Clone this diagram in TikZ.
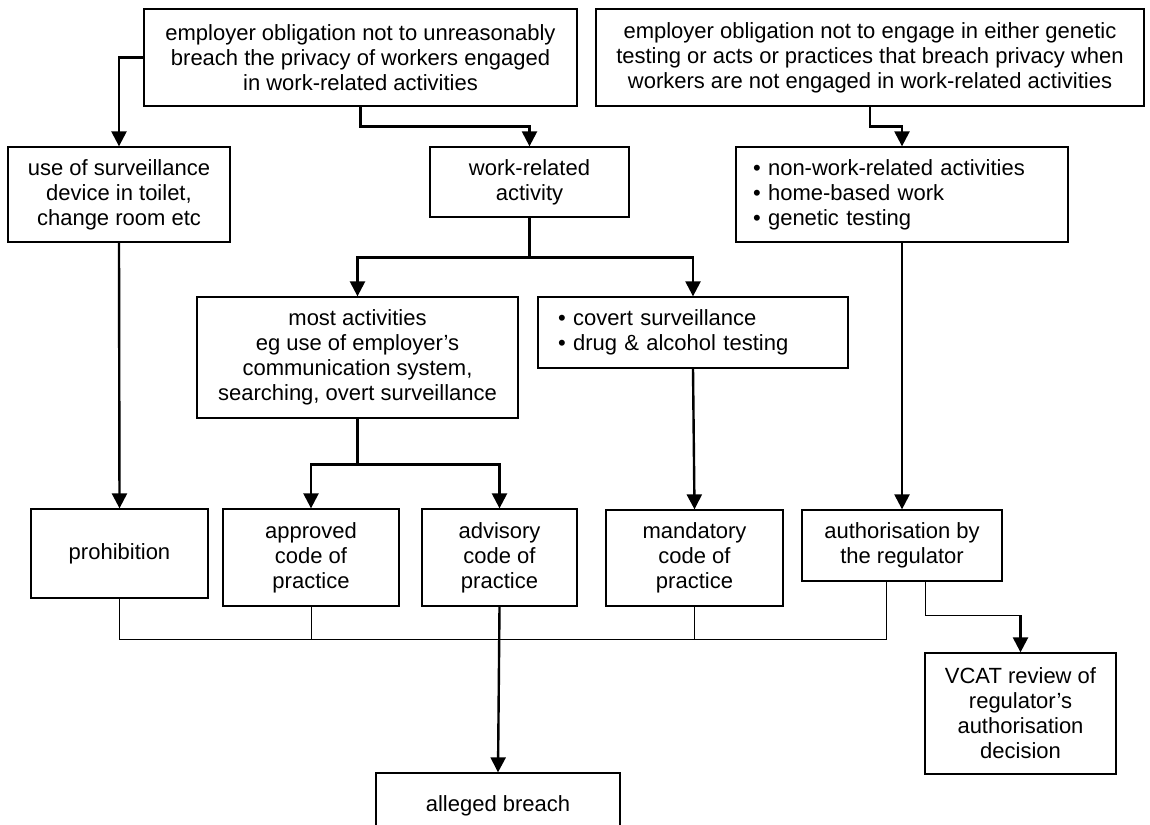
\documentclass[tikz,border=0pt]{standalone}
\usepackage{fontspec}
\setmainfont{Liberation Sans}
\usetikzlibrary{arrows.meta}
\begin{document}
\begin{tikzpicture}[x=1pt,y=-1pt,
  box/.style={draw=black, line width=1.3pt, fill=white, align=center, inner sep=0pt,
              font=\fontsize{22}{25}\selectfont},
  lbox/.style={box, align=left},
  conn/.style={line width=2.4pt, -{Triangle[width=15pt,length=15pt]}},
  trunk/.style={line width=2.4pt},
  bus/.style={line width=1pt}]
\clip (0,0) rectangle (1150,824);
\fill[white] (0,0) rectangle (1150,824);

% boxes
\node[box, minimum width=433pt, minimum height=97pt] (tl) at (360.5,57.5)
  {employer obligation not to unreasonably\\breach the privacy of workers engaged\\in work-related activities};
\node[box, minimum width=548pt, minimum height=97pt] (tr) at (870,57.5)
  {employer obligation not to engage in either genetic\\testing or acts or practices that breach privacy when\\workers are not engaged in work-related activities};
\node[box, minimum width=222pt, minimum height=95pt] (sv) at (119,194.5)
  {use of surveillance\\device in toilet,\\change room etc};
\node[box, minimum width=199pt, minimum height=70pt] (wr) at (529.5,182)
  {work-related\\activity};
\node[lbox, text width=298pt, inner xsep=17pt, minimum height=95pt] (nw) at (902,194.5)
  {• non-work-related activities\\• home-based work\\• genetic testing};
\node[box, minimum width=321pt, minimum height=121pt] (ma) at (357.5,357.5)
  {most activities\\eg use of employer’s\\communication system,\\searching, overt surveillance};
\node[lbox, text width=270pt, inner xsep=20pt, minimum height=71pt] (cv) at (693,332.5)
  {• covert surveillance\\• drug \& alcohol testing};
\node[box, minimum width=177pt, minimum height=89pt] (pr) at (119.5,553.5) {prohibition};
\node[box, minimum width=176pt, minimum height=97pt] (ap) at (311,557.5) {approved\\code of\\practice};
\node[box, minimum width=155pt, minimum height=97pt] (ad) at (499.5,557.5) {advisory\\code of\\practice};
\node[box, minimum width=177pt, minimum height=96pt] (md) at (694.5,558) {mandatory\\code of\\practice};
\node[box, minimum width=200pt, minimum height=71pt] (au) at (902,545.5) {authorisation by\\the regulator};
\node[box, minimum width=191pt, minimum height=121pt] (vc) at (1020.5,713.5)
  {VCAT review of\\regulator’s\\authorisation\\decision};
\node[box, minimum width=244pt, minimum height=65pt] (ab) at (498,805.5) {alleged breach};

% thick connectors
\draw[conn] (tl.west) -| (sv.north);
\draw[conn] (tl.south) -- ++(0,20) -| (wr.north);
\draw[conn] (tr.south) -- ++(0,20) -| (nw.north);
\draw[trunk] (wr.south) -- ++(0,40) coordinate (wsplit);
\draw[conn] (wsplit) -| (ma.north);
\draw[conn] (wsplit) -| (cv.north);
\draw[trunk] (ma.south) -- ++(0,46) coordinate (msplit);
\draw[conn] (msplit) -| (ap.north);
\draw[conn] (msplit) -| (ad.north);
\draw[conn] (sv.south) -- (pr.north);
\draw[conn] (cv.south) -- (md.north);
\draw[conn] (nw.south) -- (au.north);

% thin bus
\coordinate (busy) at (0,639);
\draw[bus] (pr.south) |- ([xshift=-16pt]au.south |- busy) -- ([xshift=-16pt]au.south);
\draw[bus] (ap.south) -- (ap.south |- busy);
\draw[bus] (md.south) -- (md.south |- busy);

\draw[conn] (ad.south) -- (ab.north);

% review branch
\path (vc.north) ++(0,-37) coordinate (vk);
\draw[bus] ([xshift=23pt]au.south) |- (vk);
\draw[conn] (vk) -- (vc.north);
\end{tikzpicture}
\end{document}
